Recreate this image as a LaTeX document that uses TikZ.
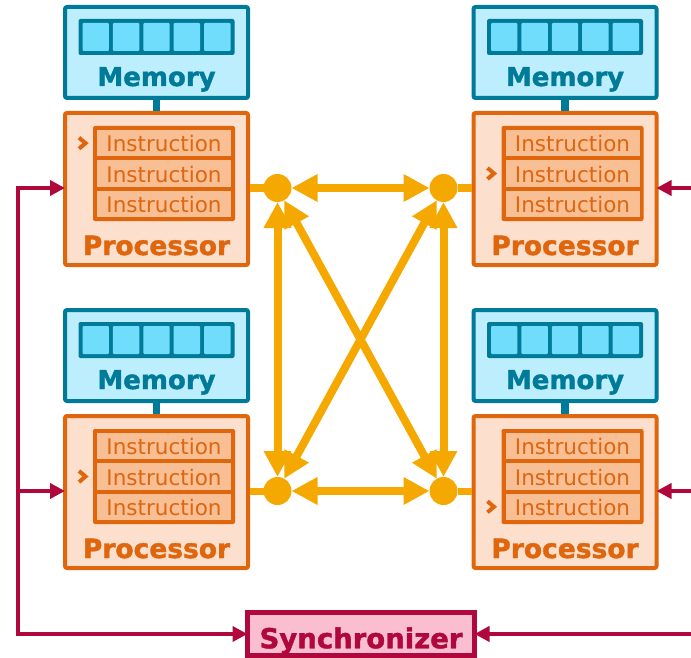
\documentclass[tikz,border=0pt]{standalone}
\usepackage{fontspec}
\setmainfont{DejaVu Sans}[BoldFeatures={FakeBold=1.5}]
\usetikzlibrary{arrows.meta}

\definecolor{memline}{RGB}{0,122,153}
\definecolor{memfill}{RGB}{188,238,253}
\definecolor{cellfill}{RGB}{112,221,253}
\definecolor{procline}{RGB}{224,102,14}
\definecolor{procfill}{RGB}{252,223,204}
\definecolor{instfill}{RGB}{248,190,148}
\definecolor{amber}{RGB}{245,168,0}
\definecolor{crimson}{RGB}{176,8,60}
\definecolor{syncfill}{RGB}{250,190,208}

\tikzset{
  membox/.style={draw=memline, fill=memfill, line width=4pt, rounded corners=2pt,
    minimum width=183pt, minimum height=91pt, inner sep=0pt, outer sep=0pt},
  procbox/.style={draw=procline, fill=procfill, line width=4pt, rounded corners=2pt,
    minimum width=183pt, minimum height=152pt, inner sep=0pt, outer sep=0pt},
  memtext/.style={anchor=base, inner sep=0pt, text=memline,
    font=\fontsize{26}{30}\selectfont\bfseries},
  proctext/.style={anchor=base, inner sep=0pt, text=procline,
    font=\fontsize{26.5}{30}\selectfont\bfseries},
  insttext/.style={anchor=base, inner sep=0pt, text=procline,
    font=\fontsize{21.5}{26}\selectfont},
  membus/.style={draw=memline, line width=7.5pt},
  pointer/.style={draw=procline, line width=4pt, line join=miter},
  hub/.style={circle, fill=amber, minimum size=28pt, inner sep=0pt, outer sep=0pt},
  stub/.style={draw=amber, line width=7pt},
  link/.style={draw=amber, line width=8pt,
    arrows={Triangle[length=26pt,width=26pt]-Triangle[length=26pt,width=26pt]}},
  sig/.style={draw=crimson, line width=4pt, line join=miter,
    -{Triangle[length=15pt,width=15pt]}},
  sigboth/.style={sig, {Triangle[length=15pt,width=15pt]}-{Triangle[length=15pt,width=15pt]}},
  syncbox/.style={draw=crimson, fill=syncfill, line width=5pt,
    minimum width=227pt, minimum height=43pt, inner sep=0pt, outer sep=0pt,
    text=crimson, font=\fontsize{27.5}{30}\selectfont\bfseries,
    text height=28.5pt, text depth=0pt},
}

% One memory + processor pair.
% #1 name suffix, #2 centre x, #3 vertical offset, #4 y of the pointed-at instruction
\newcommand\pmunit[4]{%
  \node[membox] (mem#1) at ({#2},{52.5+#3}) {};
  \node[procbox] (proc#1) at ({#2},{189+#3}) {};
  \draw[membus] ([yshift=-2pt]mem#1.south) -- ([yshift=2pt]proc#1.north);
  % memory cells
  \fill[memline, rounded corners=2pt] ({#2-78},{19+#3}) rectangle ({#2+78},{55+#3});
  \foreach \i in {0,...,4}
    \fill[cellfill, rounded corners=1pt] ({#2-74+\i*30.4},{23+#3}) rectangle ++(26.4,28);
  \node[memtext] (mt#1) at ({#2},{86+#3}) {Memory};
  % instruction stack
  \fill[procline, rounded corners=2pt] ({#2-63.5},{126+#3}) rectangle ({#2+78.5},{221+#3});
  \foreach \k in {0,1,2} {
    \fill[instfill] ({#2-59.5},{130+\k*30.35+#3}) rectangle ++(134,26.35);
    \node[insttext] (in#1\k) at ({#2+7.5},{151.7+\k*30.35+#3}) {Instruction};
  }
  \draw[pointer] ({#2-77.5},{#4+#3-5.5}) -- ++(6.5,5.5) -- ++(-6.5,5.5);
  \node[proctext] (pt#1) at ({#2},{255+#3}) {Processor};
}

\begin{document}
\begin{tikzpicture}[x=1pt, y=-1pt]
\useasboundingbox (0,0) rectangle (691,658);

\pmunit{TL}{156.5}{0}{143.2}
\pmunit{TR}{565}{0}{173.5}
\pmunit{BL}{156.5}{303}{173.5}
\pmunit{BR}{565}{303}{203.8}

% interconnect hubs
\node[hub] (h1) at (277.5,188) {};
\node[hub] (h2) at (443.5,188) {};
\node[hub] (h3) at (277.5,491) {};
\node[hub] (h4) at (443.5,491) {};

\draw[stub] ([xshift=2pt]procTL.east |- h1) -- (h1);
\draw[stub] ([xshift=-2pt]procTR.west |- h2) -- (h2);
\draw[stub] ([xshift=2pt]procBL.east |- h3) -- (h3);
\draw[stub] ([xshift=-2pt]procBR.west |- h4) -- (h4);

\draw[link] (h1) -- (h2);
\draw[link] (h3) -- (h4);
\draw[link] (h1) -- (h3);
\draw[link] (h2) -- (h4);
\draw[link] (h1) -- (h4);
\draw[link] (h2) -- (h3);

% synchronizer and its control lines
\node[syncbox] (sync) at (361,634) {Synchronizer};

\coordinate (lbus) at (17.5,188);
\draw[sigboth] (sync.west) -| (lbus) -- (procTL.west |- lbus);
\draw[sig] (lbus |- h3) -- (procBL.west |- h3);

\coordinate (rtop) at (691,188);
\coordinate (rmid) at (691,491);
\coordinate (rlow) at (691,634);
\draw[sig] (rtop) -- (procTR.east |- rtop);
\draw[sig] (rmid) -- (procBR.east |- rmid);
\draw[sig] (rlow) -- (sync.east);
\end{tikzpicture}
\end{document}
